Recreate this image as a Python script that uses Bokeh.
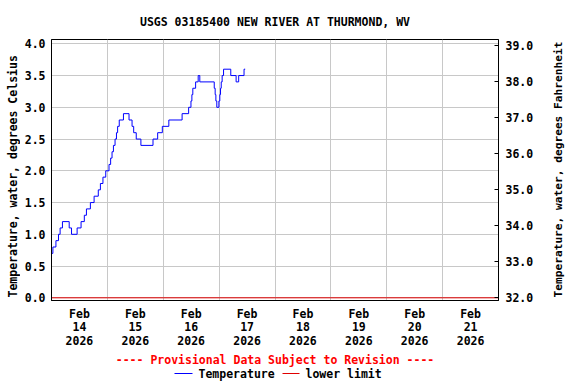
import math
from bokeh.plotting import figure
from bokeh.layouts import column, row
from bokeh.models import (Range1d, LinearAxis, FixedTicker, Grid, Label,
                          NumeralTickFormatter)
from bokeh.embed import file_html
from bokeh.resources import INLINE

# ---- data (hours since Feb 14 2026 00:00, water temperature degC) ----
change_hours = [0.0, 0.6, 1.9, 3.0, 3.7, 4.7, 7.6, 8.6, 11.0, 12.7, 14.1, 15.0,
                16.7, 18.3, 20.1, 21.0, 22.1, 23.3, 24.7, 25.4, 26.0, 26.6, 27.3,
                27.9, 28.4, 29.1, 30.9, 33.3, 34.6, 35.3, 36.4, 38.4, 43.6, 45.6,
                47.6, 50.4, 56.1, 58.9, 59.9, 60.3, 60.7, 61.9, 63.0, 63.7, 69.9,
                70.3, 70.6, 71.0, 71.9, 72.3, 72.6, 72.9, 73.3, 73.9, 77.0, 79.3,
                80.4, 82.7]
change_temps = [0.7, 0.8, 0.9, 1.0, 1.1, 1.2, 1.1, 1.0, 1.1, 1.2, 1.3, 1.4,
                1.5, 1.6, 1.7, 1.8, 1.9, 2.0, 2.1, 2.2, 2.3, 2.4, 2.5,
                2.6, 2.7, 2.8, 2.9, 2.8, 2.7, 2.6, 2.5, 2.4, 2.5, 2.6,
                2.7, 2.8, 2.9, 3.0, 3.1, 3.2, 3.3, 3.4, 3.5, 3.4, 3.3,
                3.2, 3.1, 3.0, 3.1, 3.2, 3.3, 3.4, 3.5, 3.6, 3.5, 3.4,
                3.5, 3.6]
last_hour = 83.2
lower_limit = 0.0

day_labels = ["Feb\n14\n2026", "Feb\n15\n2026", "Feb\n16\n2026", "Feb\n17\n2026",
              "Feb\n18\n2026", "Feb\n19\n2026", "Feb\n20\n2026", "Feb\n21\n2026"]
celsius_ticks = [0.0, 0.5, 1.0, 1.5, 2.0, 2.5, 3.0, 3.5, 4.0]
fahrenheit_ticks = [32.0, 33.0, 34.0, 35.0, 36.0, 37.0, 38.0, 39.0]
series_names = ["Temperature", "lower limit"]

FONT = "DejaVu Sans Mono"
FS = "11.5px"
BLUE = "#0000ff"
RED = "#e00000"
TXT = dict(text_font=FONT, text_font_style="bold")

n_days = len(day_labels)
xs = [h / 24.0 for h in change_hours] + [last_hour / 24.0]
ys = change_temps + [change_temps[-1]]

MAIN_H = 352
LEFT_W = 20
RIGHT_W = 28
FRAME_L, FRAME_R, FRAME_T, FRAME_B = 51, 498, 39, 300

p = figure(width=576 - LEFT_W - RIGHT_W, height=MAIN_H, output_backend="svg",
           toolbar_location=None,
           x_range=Range1d(0, n_days), y_range=Range1d(-0.0425, 4.0677),
           min_border_left=FRAME_L - LEFT_W, min_border_right=576 - RIGHT_W - FRAME_R,
           min_border_top=FRAME_T, min_border_bottom=MAIN_H - FRAME_B,
           x_axis_type=None, y_axis_type=None)
p.outline_line_color = "black"
p.outline_line_width = 1
p.background_fill_color = "white"
p.border_fill_color = "white"

p.title.text = "USGS 03185400 NEW RIVER AT THURMOND, WV"
p.title.align = "center"
p.title.text_font = FONT
p.title.text_font_size = FS
p.title.text_font_style = "bold"
p.title.text_color = "black"
p.title.standoff = 21

yl = LinearAxis(ticker=FixedTicker(ticks=celsius_ticks),
                formatter=NumeralTickFormatter(format="0.0"))
xb = LinearAxis(ticker=FixedTicker(ticks=[i + 0.5 for i in range(n_days)]),
                major_label_overrides={i + 0.5: lab for i, lab in enumerate(day_labels)})
p.extra_y_ranges = {"F": Range1d(31.925, 39.175)}
yr = LinearAxis(y_range_name="F", ticker=FixedTicker(ticks=fahrenheit_ticks),
                formatter=NumeralTickFormatter(format="0.0"))

for ax in (yl, xb, yr):
    ax.major_label_text_font = FONT
    ax.major_label_text_font_size = FS
    ax.major_label_text_font_style = "bold"
    ax.major_label_text_color = "black"
    ax.minor_tick_line_color = None
    ax.axis_line_color = "black"
    ax.major_tick_out = 0
    ax.major_tick_in = 0

yl.major_label_standoff = 6
xb.major_label_standoff = 6
xb.major_label_text_line_height = 0.98
yr.major_tick_in = 4
yr.major_tick_line_color = "black"
yr.major_label_standoff = 7

p.add_layout(yl, "left")
p.add_layout(xb, "below")
p.add_layout(yr, "right")

p.add_layout(Grid(dimension=0, ticker=FixedTicker(ticks=list(range(1, n_days))),
                  grid_line_color="#c8c8c8"))
p.add_layout(Grid(dimension=1, ticker=FixedTicker(ticks=celsius_ticks),
                  grid_line_color="#c8c8c8"))

p.line([0, n_days], [lower_limit, lower_limit], line_color=RED, line_width=1)
p.step(xs, ys, mode="after", line_color=BLUE, line_width=1)


def strip(w, h, top=0, bottom=0):
    # frame spans rows top..h-bottom; data units are page pixels (y downward)
    s = figure(width=w, height=h, output_backend="svg", toolbar_location=None,
               x_range=Range1d(0, w), y_range=Range1d(h - bottom, top),
               min_border_left=0, min_border_right=0,
               min_border_top=top, min_border_bottom=bottom,
               x_axis_type=None, y_axis_type=None, title=None)
    s.outline_line_color = None
    s.grid.visible = False
    s.background_fill_color = "white"
    s.border_fill_color = "white"
    return s


# ---- side axis titles (read bottom to top on both sides) ----
ls = strip(LEFT_W, MAIN_H, FRAME_T, MAIN_H - FRAME_B)
ls.add_layout(Label(x=12, y=297, angle=math.pi / 2,
                    text="Temperature, water, degrees Celsius",
                    text_align="left", text_baseline="middle",
                    text_color="black", text_font_size=FS, **TXT))
rs = strip(RIGHT_W, MAIN_H, FRAME_T, MAIN_H - FRAME_B)
rs.add_layout(Label(x=10, y=297, angle=math.pi / 2,
                    text="Temperature, water, degrees Fahrenheit",
                    text_align="left", text_baseline="middle",
                    text_color="black", text_font_size="11.2px", **TXT))

# ---- footer: provisional note and legend ----
FOOT_H = 384 - MAIN_H
f = strip(576, FOOT_H)
f.add_layout(Label(x=274.5, y=359 - MAIN_H,
                   text="---- Provisional Data Subject to Revision ----",
                   text_align="center", text_baseline="middle", text_color="#ff0000",
                   text_font_size=FS, **TXT))
leg_y = 373 - MAIN_H
f.segment(x0=[174], y0=[leg_y], x1=[192], y1=[leg_y], line_color=BLUE, line_width=1)
f.segment(x0=[282], y0=[leg_y], x1=[299], y1=[leg_y], line_color=RED, line_width=1)
for lx, name in zip([198, 305], series_names):
    f.add_layout(Label(x=lx, y=leg_y, text=name, text_align="left",
                       text_baseline="middle", text_color="black",
                       text_font_size=FS, **TXT))

layout = column(row(ls, p, rs, spacing=0), f, spacing=0)
open("out.html", "w").write(file_html(layout, INLINE))
